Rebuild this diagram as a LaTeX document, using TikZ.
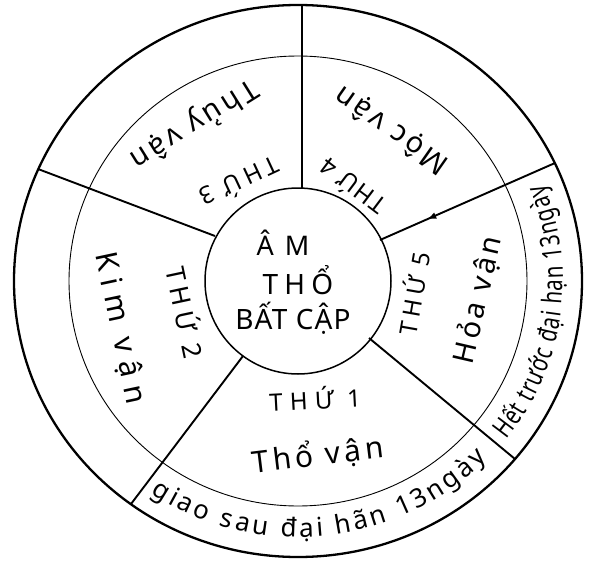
\documentclass[tikz,border=0pt]{standalone}
\usepackage{fontspec}
\setmainfont{Noto Sans}
\newfontfamily\hand{Noto Sans}
\newfontfamily\handc[FakeStretch=0.76]{Noto Sans}
\usetikzlibrary{calc,decorations.text,decorations.markings,arrows.meta}
\begin{document}
\begin{tikzpicture}[x=1pt,y=-1pt,
  ring/.style={line width=2.3pt},
  midring/.style={line width=0.9pt},
  corering/.style={line width=1.5pt},
  spoke/.style={line width=1.9pt},
  daylbl/.style={inner sep=0pt,font=\hand\fontsize{24}{24}\selectfont\addfontfeature{LetterSpace=20}},
  vanlbl/.style={inner sep=0pt,font=\hand\fontsize{29}{29}\selectfont\addfontfeature{LetterSpace=12}},
  corelbl/.style={inner sep=0pt,font=\hand\fontsize{27}{27}\selectfont},
  bandtext/.style={decorate,decoration={text along path,text align={fit to path},text={#1}}}]
\useasboundingbox (0,0) rectangle (590,565);
\fill[white] (0,0) rectangle (590,565);
\coordinate (C) at (298,281);
% circles
\draw[ring] (C) ellipse[x radius=284pt,y radius=276pt];
\draw[midring] (C) ellipse[x radius=229pt,y radius=225pt];
\draw[corering] (C) circle[radius=93pt];
% spoke end points
\coordinate (t1) at (302,188); \coordinate (t2) at (302,5);
\coordinate (ul1) at (215,236); \coordinate (ul2) at (38,169);
\coordinate (ur1) at (380,240); \coordinate (ur2) at (555,163);
\coordinate (lr1) at (369,338); \coordinate (lr2) at (515,459);
\coordinate (ll1) at (243,356); \coordinate (ll2) at (131,504);
\draw[spoke] (t1) -- (t2);
\draw[spoke] (ul1) -- (ul2);
\draw[spoke,postaction={decorate},decoration={markings,mark=at position 0.73 with {\arrow{Latex[length=9pt,width=7pt]}}}] (ur2) -- (ur1);
\draw[spoke] (lr1) -- (lr2);
\draw[spoke] (ll1) -- (ll2);
% centre
\node[corelbl,font=\hand\fontsize{27}{27}\selectfont\addfontfeature{LetterSpace=40}] (am) at (283,243) {ÂM};
\node[corelbl,font=\hand\fontsize{28}{28}\selectfont\addfontfeature{LetterSpace=22}] (tho) at (298,280) {THỔ};
\node[corelbl,font=\hand\fontsize{28}{28}\selectfont\addfontfeature{LetterSpace=4}] (batcap) at (293,318) {BẤT CẬP};
% sectors
\node[daylbl,rotate=205] (thu3) at (240,183) {THỨ 3};
\node[vanlbl,rotate=212] (thuy) at (194,124) {Thủy vận};
\node[daylbl,rotate=143,font=\hand\fontsize{24}{24}\selectfont\addfontfeature{LetterSpace=8}] (thu4) at (352,188) {THỨ 4};
\node[vanlbl,rotate=145] (moc) at (392,130) {Mộc vận};
\node[daylbl,rotate=-78,font=\hand\fontsize{26}{26}\selectfont\addfontfeature{LetterSpace=22}] (thu2) at (187,312) {THỨ 2};
\node[vanlbl,rotate=-78,font=\hand\fontsize{30}{30}\selectfont\addfontfeature{LetterSpace=28}] (kim) at (120,328) {Kim vận};
\node[daylbl,rotate=80] (thu5) at (413,293) {THỨ 5};
\node[vanlbl,rotate=77] (hoa) at (478,300) {Hỏa vận};
\node[daylbl,rotate=3,font=\hand\fontsize{24}{24}\selectfont\addfontfeature{LetterSpace=30}] (thu1) at (315,398) {THỨ 1};
\node[vanlbl,rotate=7,font=\hand\fontsize{30}{30}\selectfont\addfontfeature{LetterSpace=14}] (thovan) at (318,455) {Thổ vận};
% band texts
\path[bandtext={|\handc\fontsize{27}{27}\selectfont|Hết trước đại hạn 13ngày}]
  ($(C)+(-38:265pt and 258pt)$) arc[start angle=-38,end angle=22,x radius=265pt,y radius=258pt];
\path[bandtext={|\hand\fontsize{26}{26}\selectfont|giao sau đại hãn 13ngày}]
  ($(C)+(236:263pt and 256pt)$) arc[start angle=236,end angle=316,x radius=263pt,y radius=256pt];
\end{tikzpicture}
\end{document}
